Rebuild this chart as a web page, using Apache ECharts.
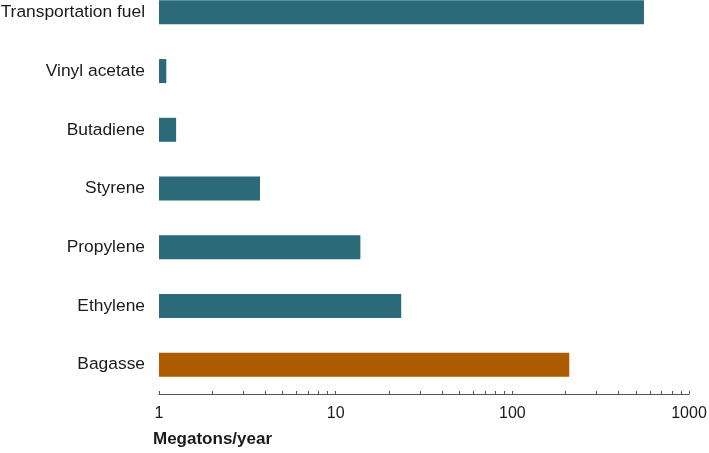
<!DOCTYPE html>
<html>
<head>
<meta charset="utf-8">
<script src="https://cdn.jsdelivr.net/npm/echarts@6/dist/echarts.min.js"></script>
<style>
html,body{margin:0;padding:0;background:#fff;overflow:hidden;}
#wrap{position:relative;width:709px;height:453px;overflow:hidden;}
#chart{position:absolute;left:0;top:-17px;width:709px;height:470px;}
</style>
</head>
<body>
<div id="wrap"><div id="chart"></div></div>
<script>
const categories = ["Transportation fuel", "Vinyl acetate", "Butadiene", "Styrene", "Propylene", "Ethylene", "Bagasse"];
const values = [556, 1.1, 1.25, 3.73, 13.8, 23.5, 210];
const highlighted = "Bagasse";
const tickValues = [1,2,3,4,5,6,7,8,9,10,20,30,40,50,60,70,80,90,100,200,300,400,500,600,700,800,900,1000];
const tickLabels = [1, 10, 100, 1000];
const axisTitle = "Megatons/year";

const chart = echarts.init(document.getElementById('chart'), null, {renderer: 'canvas'});
chart.setOption({
  animation: false,
  backgroundColor: '#ffffff',
  textStyle: {fontFamily: 'Liberation Sans, Arial, sans-serif'},
  title: {
    text: axisTitle,
    left: 153,
    top: 448,
    padding: 0,
    textStyle: {fontSize: 17, fontWeight: 'bold', color: '#1a1a1a', fontFamily: 'Liberation Sans, Arial, sans-serif'}
  },
  grid: {left: 159, right: 20, top: 0, bottom: 59, containLabel: false, outerBoundsMode: 'none'},
  xAxis: {
    type: 'log',
    logBase: 10,
    min: 1,
    max: 1000,
    axisLine: {show: true, lineStyle: {color: '#555555', width: 1}},
    axisTick: {show: true, inside: true, length: 3, customValues: tickValues, lineStyle: {color: '#555555'}},
    axisLabel: {
      customValues: tickLabels,
      margin: 12,
      fontSize: 16,
      color: '#1a1a1a',
      formatter: v => String(Math.round(v))
    },
    splitLine: {show: false}
  },
  yAxis: {
    type: 'category',
    data: categories,
    inverse: true,
    axisLine: {show: false},
    axisTick: {show: false},
    axisLabel: {fontSize: 17.4, color: '#1a1a1a', margin: 14}
  },
  series: [{
    type: 'bar',
    data: values,
    barWidth: 24,
    itemStyle: {
      color: p => categories[p.dataIndex] === highlighted ? '#ad5b00' : '#2b6a78'
    }
  }]
});
</script>
</body>
</html>
